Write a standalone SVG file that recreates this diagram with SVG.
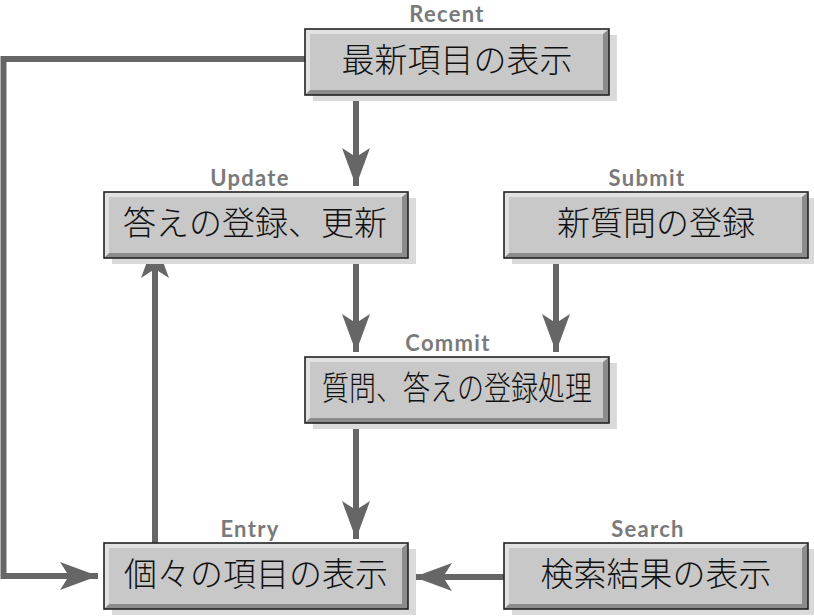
<svg xmlns="http://www.w3.org/2000/svg" xmlns:xlink="http://www.w3.org/1999/xlink" width="814" height="616" viewBox="0 0 814 616">
<style>
.lbl{font-family:"Lato","Liberation Sans",sans-serif;font-size:22px;font-weight:bold;fill:#7a7a7a;text-anchor:middle;letter-spacing:1.3px}
.txt{font-family:"Noto Sans CJK JP","Noto Sans CJK SC",sans-serif;font-size:33px;font-weight:300;fill:#111;text-anchor:middle}
.con{fill:none;stroke:#666;stroke-width:6}
</style>
<defs>
<marker id="ah" viewBox="-40 -15 42 30" refX="0" refY="0" markerUnits="userSpaceOnUse" markerWidth="42" markerHeight="30" orient="auto">
<path d="M0,0 L-38,-14 L-29,0 L-38,14 Z" fill="#666"/>
</marker>
<g id="box">
<rect x="8" y="6" width="304" height="66" fill="#dadada"/>
<rect x="0" y="0" width="304" height="66" fill="#8c8c8c"/>
<polygon points="0,0 304,0 298,5 5,5 5,61 0,66" fill="#e2e2e2"/>
<rect x="5" y="5" width="293" height="56" fill="#c8c8c8"/>
<rect x="0" y="0" width="304" height="66" fill="none" stroke="#222" stroke-width="1.6"/>
</g>
</defs>
<g id="connectors">
<path class="con" d="M305,59 H3.5 V576 H98" marker-end="url(#ah)"/>
<path class="con" d="M356,95 V186" marker-end="url(#ah)"/>
<path class="con" d="M356,258 V352" marker-end="url(#ah)"/>
<path class="con" d="M556,258 V352" marker-end="url(#ah)"/>
<path class="con" d="M356,423 V539" marker-end="url(#ah)"/>
<path class="con" d="M155,543 V240" marker-end="url(#ah)"/>
<path class="con" d="M505,577 H414" marker-end="url(#ah)"/>
</g>
<g id="recent">
<use xlink:href="#box" x="305" y="29"/>
<text class="lbl" x="447" y="22">Recent</text>
<text class="txt" x="457" y="72">最新項目の表示</text>
</g>
<g id="update">
<use xlink:href="#box" x="104" y="192"/>
<text class="lbl" x="250" y="186">Update</text>
<text class="txt" x="255" y="235">答えの登録、更新</text>
</g>
<g id="submit">
<use xlink:href="#box" x="504" y="192"/>
<text class="lbl" x="647" y="186">Submit</text>
<text class="txt" x="656" y="235">新質問の登録</text>
</g>
<g id="commit">
<use xlink:href="#box" x="305" y="357"/>
<text class="lbl" x="448" y="351">Commit</text>
<text class="txt" x="457" y="400" textLength="270" lengthAdjust="spacingAndGlyphs">質問、答えの登録処理</text>
</g>
<g id="entry">
<use xlink:href="#box" x="104" y="543"/>
<text class="lbl" x="250" y="537">Entry</text>
<text class="txt" x="256" y="586">個々の項目の表示</text>
</g>
<g id="search">
<use xlink:href="#box" x="504" y="543"/>
<text class="lbl" x="648" y="537">Search</text>
<text class="txt" x="656" y="586">検索結果の表示</text>
</g>
</svg>
